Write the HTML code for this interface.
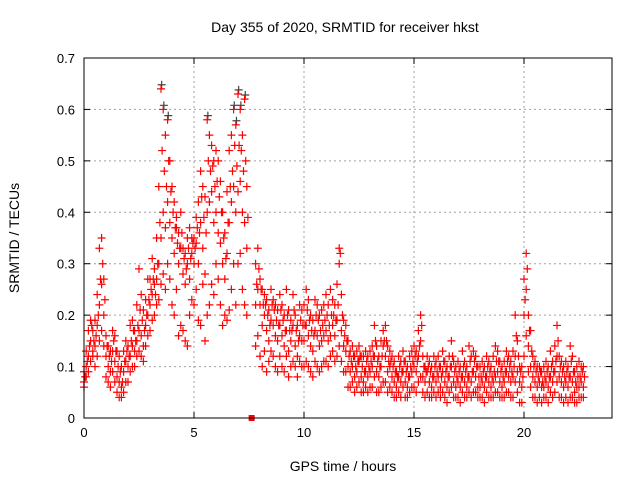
<!DOCTYPE html>
<html><head><meta charset="utf-8"><style>
html,body{margin:0;padding:0;background:#fff}
svg{display:block;font-family:"Liberation Sans",sans-serif}
</style></head><body>
<svg id="chart" width="640" height="480" viewBox="0 0 640 480">
<rect width="640" height="480" fill="#fff"/>
<text x="345" y="32" font-size="14" text-anchor="middle">Day 355 of 2020, SRMTID for receiver hkst</text>
<text x="343" y="471" font-size="14" text-anchor="middle">GPS time / hours</text>
<text transform="translate(19,238) rotate(-90)" font-size="14" text-anchor="middle">SRMTID / TECUs</text>
<g id="grid"></g>
<g id="ticks"></g>
<g id="marks"></g>
<rect x="84" y="58" width="528" height="360" fill="none" stroke="#000" stroke-width="1"/>
</svg>
<script>
const xTicks = [0, 5, 10, 15, 20];
const yTicks = [0, 0.1, 0.2, 0.3, 0.4, 0.5, 0.6, 0.7];
const yTickLabels = ["0", "0.1", "0.2", "0.3", "0.4", "0.5", "0.6", "0.7"];
const binStart = 0;
const binStep = 0.1;
const seriesA = [
.07,.10,.12,.15,.17,.14,.18,.22,.26,.20,
.12,.10,.09,.13,.11,.08,.07,.06,.09,.11,
.10,.12,.14,.13,.15,.17,.16,.14,.18,.20,
.22,.24,.26,.27,.30,.35,.40,.37,.42,.38,
.35,.32,.37,.30,.33,.28,.26,.30,.27,.32,
.30,.34,.30,.38,.33,.28,.40,.42,.44,.38,
.40,.36,.34,.30,.27,.32,.38,.42,.45,.40,
.44,.46,.40,.38,.33,null,null,null,.22,.25,
.22,.18,.20,.17,.15,.19,.18,.16,.15,.18,
.16,.14,.17,.13,.15,.18,.14,.12,.16,.15,
.15,.18,.16,.14,.13,.17,.16,.14,.15,.16,
.17,.15,.16,.18,.16,.19,.30,.17,.14,.13,
.10,.09,.10,.08,.09,.11,.08,.07,.09,.08,
.09,.10,.12,.09,.08,.10,.14,.12,.09,.10,
.08,.07,.06,.08,.07,.09,.07,.06,.08,.09,
.10,.09,.12,.15,.08,.07,.09,.07,.06,.08,
.07,.08,.06,.09,.07,.06,.08,.10,.07,.06,
.07,.06,.08,.07,.06,.08,.07,.09,.08,.06,
.06,.07,.06,.08,.07,.06,.07,.08,.09,.07,
.06,.07,.09,.08,.07,.08,.12,.09,.07,.06,
.20,.25,.14,.10,.08,.07,.06,.07,.06,.06,
.07,.06,.08,.07,.09,.12,.08,.07,.06,.07,
.06,.08,.07,.05,.06,.06,.07,.06];
const seriesB = [
.09,.13,.17,.19,.13,.19,.24,.33,.35,.27,
.16,.14,.13,.17,.16,.13,.12,.10,.13,.15,
.14,.18,.19,.17,.22,.29,.24,.21,.23,.27,
.27,.31,.29,.35,.45,.64,.60,.55,.58,.50,
.45,.42,.39,.36,.40,.33,.32,.35,.37,.35,
.35,.39,.42,.48,.45,.43,.58,.55,.53,.50,
.52,.50,.46,.40,.36,.44,.52,.55,.60,.57,
.63,.60,.55,.62,.45,null,null,null,.30,.33,
.27,.25,.24,.23,.21,.25,.23,.22,.21,.24,
.22,.20,.25,.21,.19,.24,.20,.18,.22,.21,
.22,.25,.23,.20,.19,.23,.22,.20,.21,.22,
.24,.22,.25,.23,.22,.26,.33,.24,.19,.18,
.15,.13,.14,.12,.13,.14,.12,.12,.13,.12,
.13,.14,.18,.14,.12,.15,.17,.18,.14,.13,
.12,.11,.09,.12,.11,.13,.11,.10,.12,.13,
.14,.13,.17,.20,.12,.10,.12,.11,.10,.12,
.11,.12,.10,.13,.11,.10,.12,.15,.11,.10,
.11,.10,.13,.11,.10,.14,.12,.13,.12,.10,
.10,.11,.10,.12,.11,.10,.12,.14,.13,.11,
.10,.11,.13,.12,.11,.13,.20,.15,.10,.10,
.27,.32,.20,.17,.12,.11,.10,.10,.09,.10,
.11,.10,.13,.11,.14,.18,.12,.11,.10,.11,
.10,.14,.12,.09,.10,.11,.10,.10];
const seriesC = [
.06,.08,.09,.11,.12,.10,.12,.15,.17,.14,
.08,.07,.06,.09,.07,.05,.04,.04,.05,.07,
.07,.09,.10,.10,.12,.13,.12,.11,.14,.16,
.17,.19,.20,.22,.23,.26,.28,.25,.30,.27,
.22,.20,.25,.16,.18,.17,.15,.14,.20,.23,
.22,.25,.19,.18,.26,.15,.20,.22,.26,.24,
.30,.27,.22,.18,.20,.19,.21,.25,.30,.22,
.30,.32,.25,.22,.20,null,null,null,.14,.16,
.12,.10,.13,.09,.11,.13,.12,.10,.09,.12,
.10,.09,.12,.08,.10,.11,.10,.08,.11,.10,
.10,.11,.10,.09,.08,.11,.10,.09,.10,.11,
.11,.10,.12,.13,.11,.12,.14,.11,.09,.09,
.06,.06,.07,.05,.06,.07,.05,.05,.06,.05,
.06,.06,.08,.05,.05,.06,.07,.07,.05,.06,
.05,.04,.04,.05,.04,.06,.04,.04,.05,.06,
.06,.05,.07,.08,.05,.04,.05,.04,.04,.05,
.04,.05,.04,.05,.04,.03,.05,.06,.04,.04,
.04,.03,.05,.04,.04,.05,.04,.05,.05,.04,
.04,.04,.03,.05,.04,.04,.04,.05,.05,.04,
.04,.04,.05,.05,.04,.04,.07,.05,.03,.03,
.12,.16,.09,.06,.04,.04,.03,.04,.03,.04,
.04,.03,.05,.04,.05,.07,.04,.04,.03,.04,
.03,.04,.04,.03,.03,.04,.04,.04];
const seriesD = [
.08,.11,.14,.18,.15,.16,.20,.27,.30,.23,
.14,.12,.11,.15,.13,.10,.09,.07,.11,.13,
.12,.15,.17,.15,.18,.21,.19,.17,.20,.23,
.25,.27,.24,.30,.38,.52,.48,.45,.50,.44,
.40,.37,.34,.33,.36,.31,.29,.33,.31,.34,
.33,.37,.36,.43,.39,.36,.50,.48,.49,.45,
.46,.43,.40,.35,.31,.38,.45,.48,.53,.49,
.53,.52,.48,.50,.39,null,null,null,.26,.29,
.25,.22,.22,.20,.18,.22,.21,.19,.18,.21,
.19,.17,.20,.17,.17,.21,.17,.15,.19,.18,
.18,.21,.19,.17,.16,.20,.19,.17,.18,.19,
.20,.18,.20,.20,.19,.22,.32,.20,.16,.15,
.12,.11,.12,.10,.11,.12,.10,.09,.11,.10,
.11,.12,.15,.11,.10,.12,.15,.15,.11,.11,
.10,.09,.08,.10,.09,.11,.09,.08,.10,.11,
.12,.11,.14,.18,.10,.09,.10,.09,.08,.10,
.09,.10,.08,.11,.09,.08,.10,.12,.09,.08,
.09,.08,.10,.09,.08,.11,.09,.11,.10,.08,
.08,.09,.08,.10,.09,.08,.09,.11,.11,.09,
.08,.09,.11,.10,.09,.10,.16,.12,.09,.08,
.23,.29,.17,.13,.10,.09,.08,.09,.07,.08,
.09,.08,.10,.09,.11,.15,.10,.09,.08,.09,
.08,.11,.09,.07,.08,.08,.09,.08];
const flagTimes = [7.62];
const flagValues = [0];

const NS = "http://www.w3.org/2000/svg";
const X0 = 84, X1 = 612, Y0 = 418, Y1 = 58;
const xMax = 24, yMax = 0.7;
function xs(v){ return X0 + v / xMax * (X1 - X0); }
function ys(v){ return Y0 - v / yMax * (Y0 - Y1); }
function mk(tag, attrs, parent){
  const el = document.createElementNS(NS, tag);
  for (const k in attrs) el.setAttribute(k, attrs[k]);
  parent.appendChild(el);
  return el;
}
const grid = document.getElementById('grid');
const ticks = document.getElementById('ticks');
const marks = document.getElementById('marks');

xTicks.forEach(function(t){
  const x = xs(t);
  if (t > 0) {
    const g = mk('line', {x1:x, x2:x, y1:Y0, y2:Y1, stroke:'#a0a0a0', 'stroke-dasharray':'2,3'}, grid);
    
    
  }
  mk('line', {x1:x, x2:x, y1:Y0, y2:Y0-6, stroke:'#000'}, ticks);
  mk('line', {x1:x, x2:x, y1:Y1, y2:Y1+6, stroke:'#000'}, ticks);
  const lb = mk('text', {x:x, y:Y0+19, 'font-size':13, 'text-anchor':'middle'}, ticks);
  lb.textContent = String(t);
  
  
});
yTicks.forEach(function(t, i){
  const y = ys(t);
  if (t > 0 && t < yMax) {
    const g = mk('line', {x1:X0, x2:X1, y1:y, y2:y, stroke:'#a0a0a0', 'stroke-dasharray':'2,3'}, grid);
    
    
  }
  mk('line', {x1:X0, x2:X0+6, y1:y, y2:y, stroke:'#000'}, ticks);
  mk('line', {x1:X1, x2:X1-6, y1:y, y2:y, stroke:'#000'}, ticks);
  const lb = mk('text', {x:X0-9, y:y+5, 'font-size':13, 'text-anchor':'end'}, ticks);
  lb.textContent = yTickLabels[i];
  
  
});

function plus(t, v, color){
  const x = xs(t), y = ys(v);
  const p = mk('path', {d:'M'+(x-4)+' '+y+'H'+(x+4)+'M'+x+' '+(y-4)+'V'+(y+4), stroke:color, 'stroke-width':1.2, fill:'none'}, marks);
  
  
}
[seriesB, seriesA, seriesC].forEach(function(arr, si){
  arr.forEach(function(v, i){
    if (v === null) return;
    const t = binStart + i * binStep;
    if (si === 0 && v > 0.55) plus(t + 0.03, v + 0.008, '#444');
    plus(t, v, '#ff0000');
  });
});
seriesD.forEach(function(v, i){
  if (v === null) return;
  plus(binStart + i * binStep + binStep / 2, v, '#ff0000');
});
flagTimes.forEach(function(t, i){
  const r = mk('rect', {x:xs(t)-3, y:ys(flagValues[i])-3, width:6, height:6, fill:'#ff0000'}, marks);
  
  
});
</script>
</body></html>
